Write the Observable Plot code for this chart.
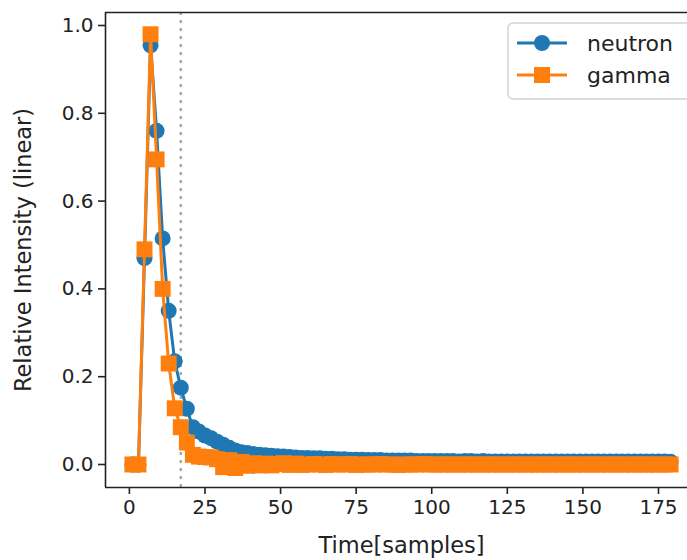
<!DOCTYPE html>
<html><head><meta charset="utf-8">
<script src="https://cdn.jsdelivr.net/npm/d3@7"></script>
<script src="https://cdn.jsdelivr.net/npm/@observablehq/plot@0.6"></script>
<style>
html,body{margin:0;padding:0;overflow:hidden;background:#fff;}
#wrap{position:relative;width:687px;height:560px;overflow:hidden;}
#legend{position:absolute;left:0;top:0;}
</style></head><body><div id="wrap"></div>
<script>
const samples = [1,3,5,7,9,11,13,15,17,19,21,23,25,27,29,31,33,35,37,39,41,43,45,47,49,51,53,55,57,59,61,63,65,67,69,71,73,75,77,79,81,83,85,87,89,91,93,95,97,99,101,103,105,107,109,111,113,115,117,119,121,123,125,127,129,131,133,135,137,139,141,143,145,147,149,151,153,155,157,159,161,163,165,167,169,171,173,175,177,179];
const neutron = [0.0,0.0,0.47,0.955,0.76,0.515,0.35,0.235,0.175,0.127,
  0.085,0.075,0.066,0.060,0.052,0.045,0.038,0.032,0.028,0.026,
  0.024,0.022,0.021,0.020,0.019,0.018,0.017,0.016,0.015,0.015,
  0.014,0.014,0.013,0.013,0.012,0.012,0.011,0.011,0.011,0.010,
  0.010,0.010,0.009,0.009,0.009,0.009,0.009,0.008,0.008,0.008,
  0.008,0.008,0.008,0.008,0.007,0.008,0.008,0.007,0.008,0.007,
  0.007,0.007,0.007,0.007,0.007,0.007,0.007,0.007,0.007,0.007,
  0.007,0.007,0.007,0.007,0.007,0.007,0.007,0.007,0.007,0.007,
  0.007,0.007,0.007,0.007,0.007,0.007,0.007,0.007,0.007,0.006];
const gamma = [0.0,0.0,0.49,0.98,0.695,0.40,0.23,0.128,0.085,0.05,
  0.022,0.018,0.017,0.016,0.012,-0.006,0.010,-0.008,0.006,-0.003,
  0.003,-0.002,0.002,-0.002,0.001,0.003,-0.001,0.002,-0.001,0.000,
  0.001,0.000,-0.001,0.001,0.000,0.000,0.001,-0.001,0.000,0.000,
  0.000,0.001,0.000,0.000,-0.001,0.000,0.000,0.000,0.001,0.000,
  0.000,0.000,0.000,0.000,0.000,0.000,0.000,0.000,0.000,0.000,
  0.000,0.000,0.000,0.000,0.000,0.000,0.000,0.000,0.000,0.000,
  0.000,0.000,0.000,0.000,0.000,0.000,0.000,0.000,0.000,0.000,
  0.000,0.000,0.000,0.000,0.000,0.000,0.000,0.000,0.000,0.000];
const seriesNames = ["neutron", "gamma"];
const seriesColors = ["#1f77b4", "#ff7f0e"];
const cutSample = 17;
const xTicks = [0,25,50,75,100,125,150,175];
const yTicks = [0.0,0.2,0.4,0.6,0.8,1.0];
const xLabel = "Time[samples]";
const yLabel = "Relative Intensity (linear)";

const nData = samples.map((s,i)=>({x:s, y:neutron[i]}));
const gData = samples.map((s,i)=>({x:s, y:gamma[i]}));
const xDom = [-7.9, 187.9];
const yDom = [-0.0524, 1.0296];

const plot = Plot.plot({
  width: 687, height: 560,
  marginLeft: 105, marginRight: -10, marginTop: 12, marginBottom: 73,
  style: {fontFamily: "DejaVu Sans", fontSize: "20px", color: "#222", background: "#fff"},
  x: {domain: xDom},
  y: {domain: yDom},
  marks: [
    Plot.ruleX([cutSample], {stroke: "#a0a0a0", strokeWidth: 2.2, strokeDasharray: "3,5"}),
    Plot.line(nData, {x:"x", y:"y", stroke: seriesColors[0], strokeWidth: 3}),
    Plot.dot(nData, {x:"x", y:"y", fill: seriesColors[0], r: 8, symbol: "circle"}),
    Plot.line(gData, {x:"x", y:"y", stroke: seriesColors[1], strokeWidth: 3}),
    Plot.dot(gData, {x:"x", y:"y", fill: seriesColors[1], r: 9, symbol: "square"}),
    Plot.ruleX([xDom[0]], {stroke: "#222", strokeWidth: 1.6}),
    Plot.ruleY([yDom[0]], {stroke: "#222", strokeWidth: 1.6}),
    Plot.ruleY([yDom[1]], {stroke: "#222", strokeWidth: 1.6}),
    Plot.axisX({ticks: xTicks, tickSize: 7, tickPadding: 5, strokeWidth: 1.6, label: null}),
    Plot.axisY({ticks: yTicks, tickFormat: d3.format(".1f"), tickSize: 7, tickPadding: 5, strokeWidth: 1.6, label: null}),
    Plot.text([xLabel], {frameAnchor: "bottom", dy: 65, lineAnchor: "bottom", textAnchor: "middle", fontSize: 22.5, fill: "#222"}),
    Plot.text([yLabel], {frameAnchor: "left", dx: -90, rotate: -90, lineAnchor: "top", textAnchor: "middle", fontSize: 22.5, fill: "#222"})
  ]
});
const wrap = document.getElementById("wrap");
wrap.appendChild(plot);

// legend
const ns = "http://www.w3.org/2000/svg";
const leg = document.createElementNS(ns, "svg");
leg.setAttribute("id", "legend");
leg.setAttribute("width", 687); leg.setAttribute("height", 120);
leg.style.position = "absolute"; leg.style.left = "0px"; leg.style.top = "0px";
const box = document.createElementNS(ns, "rect");
box.setAttribute("x", 508); box.setAttribute("y", 23); box.setAttribute("width", 190); box.setAttribute("height", 76);
box.setAttribute("rx", 5); box.setAttribute("fill", "rgba(255,255,255,0.8)"); box.setAttribute("stroke", "#d3d3d3"); box.setAttribute("stroke-width", 1.5);
leg.appendChild(box);
seriesNames.forEach((name, i) => {
  const cy = 43 + i * 32;
  const ln = document.createElementNS(ns, "line");
  ln.setAttribute("x1", 517); ln.setAttribute("x2", 567); ln.setAttribute("y1", cy); ln.setAttribute("y2", cy);
  ln.setAttribute("stroke", seriesColors[i]); ln.setAttribute("stroke-width", 3);
  leg.appendChild(ln);
  let mk;
  if (i === 0) {
    mk = document.createElementNS(ns, "circle");
    mk.setAttribute("cx", 542); mk.setAttribute("cy", cy); mk.setAttribute("r", 8);
  } else {
    mk = document.createElementNS(ns, "rect");
    mk.setAttribute("x", 534); mk.setAttribute("y", cy - 8); mk.setAttribute("width", 16); mk.setAttribute("height", 16);
  }
  mk.setAttribute("fill", seriesColors[i]);
  leg.appendChild(mk);
  const t = document.createElementNS(ns, "text");
  t.setAttribute("x", 587); t.setAttribute("y", cy); t.setAttribute("dy", "0.35em");
  t.setAttribute("font-family", "DejaVu Sans"); t.setAttribute("font-size", 22); t.setAttribute("fill", "#222");
  t.textContent = name;
  leg.appendChild(t);
});
wrap.appendChild(leg);
</script></body></html>
